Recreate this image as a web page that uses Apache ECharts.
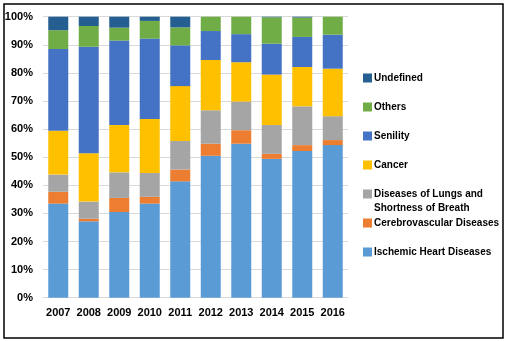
<!DOCTYPE html>
<html><head><meta charset="utf-8">
<script src="https://cdn.jsdelivr.net/npm/echarts@6/dist/echarts.min.js"></script>
<style>html,body{margin:0;padding:0;background:#fff}#c{width:507px;height:341px}</style>
</head><body><div id="c"></div>
<script>
const years = ['2007','2008','2009','2010','2011','2012','2013','2014','2015','2016'];
const ischemic = [33.5, 27.2, 30.5, 33.5, 41.4, 50.5, 54.8, 49.4, 52.2, 54.3];
const cerebro  = [4.2, 0.9, 5.0, 2.4, 4.2, 4.3, 4.8, 1.8, 2.1, 1.8];
const lungs    = [6.1, 6.1, 9.1, 8.5, 10.2, 11.9, 10.2, 10.3, 13.8, 8.5];
const cancer   = [15.6, 17.2, 16.9, 19.2, 19.5, 17.9, 14.0, 17.9, 14.0, 16.9];
const senility = [29.1, 37.9, 30.0, 28.6, 14.5, 10.3, 10.0, 11.0, 10.7, 12.1];
const others   = [6.7, 7.4, 4.6, 6.3, 6.4, 5.1, 6.2, 9.4, 6.9, 6.4];
const undef    = [4.8, 3.3, 3.9, 1.5, 3.8, 0.0, 0.0, 0.2, 0.3, 0.0];

const names = ['Ischemic Heart Diseases','Cerebrovascular Diseases','Diseases of Lungs and Shortness of Breath','Cancer','Senility','Others','Undefined'];
const colors = ['#5B9BD5','#ED7D31','#A5A5A5','#FFC000','#4472C4','#70AD47','#255E91'];
const values = [ischemic, cerebro, lungs, cancer, senility, others, undef];
const legendTops = [245, 216, 173, 158, 129, 100, 71];

const font = 'Liberation Sans, Arial, sans-serif';
const chart = echarts.init(document.getElementById('c'));
const legends = names.map((n, i) => ({
  show: true, data: [n], left: 363, top: legendTops[i], orient: 'vertical',
  itemWidth: 9, itemHeight: 9, icon: 'rect', padding: 0,
  formatter: n === names[2] ? '\nDiseases of Lungs and\nShortness of Breath' : '{name}',
  textStyle: { fontFamily: font, fontWeight: 'bold', fontSize: 10, color: '#000', lineHeight: 14, padding: [0, 0, 0, -3] },
  selectedMode: false
}));
chart.setOption({
  animation: false,
  grid: { left: 43, right: 159, top: 16.7, bottom: 43.3, containLabel: false },
  legend: legends,
  xAxis: {
    type: 'category', data: years,
    axisLine: { lineStyle: { color: '#D9D9D9' } },
    axisTick: { show: false },
    axisLabel: { interval: 0, fontFamily: font, fontWeight: 'bold', fontSize: 11, color: '#000', margin: 10 }
  },
  yAxis: {
    type: 'value', min: 0, max: 100, interval: 10,
    axisLine: { show: false }, axisTick: { show: false },
    splitLine: { lineStyle: { color: '#D9D9D9' } },
    axisLabel: { formatter: '{value}%', fontFamily: font, fontWeight: 'bold', fontSize: 11, color: '#000', margin: 10 }
  },
  series: names.map((n, i) => ({
    name: n, type: 'bar', stack: 'total', data: values[i], barWidth: 20,
    itemStyle: { color: colors[i] }
  })),
  graphic: [{
    type: 'rect', shape: { x: 4, y: 4, width: 499, height: 334 },
    style: { fill: 'none', stroke: '#000', lineWidth: 1.5 }, silent: true, z: 100
  }]
});
</script></body></html>
